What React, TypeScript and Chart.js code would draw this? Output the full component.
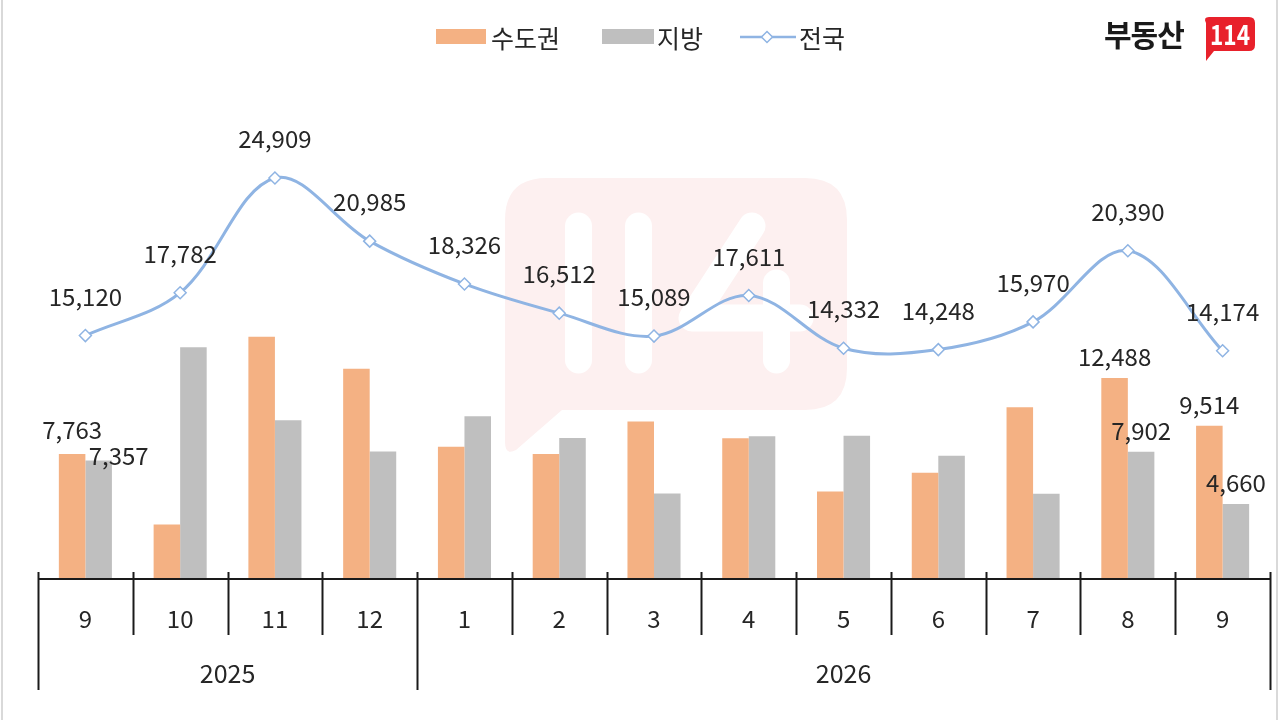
import React, { useEffect, useRef } from "react";
import { Chart, registerables } from "chart.js";

Chart.register(...registerables);

const months = ["9", "10", "11", "12", "1", "2", "3", "4", "5", "6", "7", "8", "9"];
const years = ["2025", "2026"];
const yearSpans = [4, 9];
const metro = [7763, 3380, 15050, 13060, 8215, 7758, 9785, 8740, 5440, 6600, 10670, 12488, 9514];
const local = [7357, 14402, 9859, 7925, 10111, 8754, 5304, 8871, 8892, 7648, 5300, 7902, 4660];
const national = [15120, 17782, 24909, 20985, 18326, 16512, 15089, 17611, 14332, 14248, 15970, 20390, 14174];
const labeledBars = [0, 11, 12];
const seriesNames = ["수도권", "지방", "전국"];

const FONT = '"Noto Sans CJK KR", "Noto Sans", sans-serif';
const ORANGE = "#F4B183";
const GRAY = "#BFBFBF";
const BLUE = "#8FB4E3";
const TEXT = "#262626";

const fmt = (v: number) => v.toLocaleString("en-US");

const overlayPlugin = {
  id: "overlay",
  afterDraw(chart: any) {
    const ctx = chart.ctx;
    const area = chart.chartArea;
    const xs = chart.scales.x;
    ctx.save();
    ctx.fillStyle = TEXT;
    ctx.textAlign = "center";
    ctx.textBaseline = "middle";
    ctx.font = `24px ${FONT}`;

    // line labels
    const lineMeta = chart.getDatasetMeta(2);
    lineMeta.data.forEach((pt: any, i: number) => {
      ctx.fillText(fmt(national[i]), pt.x, pt.y - 39);
    });

    // bar labels
    const vals = [metro, local];
    [0, 1].forEach((d) => {
      const meta = chart.getDatasetMeta(d);
      labeledBars.forEach((i) => {
        const el = meta.data[i];
        let dx = 0;
        let dy = -21;
        if (i === 0 && d === 0) dy = -24;
        if (i === 0 && d === 1) {
          dx = 20;
          dy = -5;
        }
        ctx.fillText(fmt(vals[d][i]), el.x + dx, el.y + dy);
      });
    });

    // axis
    const y0 = area.bottom;
    const half = (xs.getPixelForValue(1) - xs.getPixelForValue(0)) / 2;
    const edge = (i: number) => xs.getPixelForValue(0) - half + i * 2 * half;
    ctx.strokeStyle = "#1a1a1a";
    ctx.lineWidth = 2;
    ctx.beginPath();
    ctx.moveTo(edge(0), y0);
    ctx.lineTo(edge(months.length), y0);
    ctx.stroke();

    const groupEdges = [0];
    yearSpans.forEach((s) => groupEdges.push(groupEdges[groupEdges.length - 1] + s));
    for (let i = 0; i <= months.length; i++) {
      const isGroup = groupEdges.includes(i);
      const x = Math.round(edge(i)) + 0.5;
      ctx.beginPath();
      ctx.moveTo(x, y0 - 7);
      ctx.lineTo(x, y0 + (isGroup ? 111 : 56));
      ctx.stroke();
    }

    ctx.font = `24px ${FONT}`;
    months.forEach((m, i) => {
      ctx.fillText(m, xs.getPixelForValue(i), y0 + 40);
    });
    ctx.font = `25px ${FONT}`;
    years.forEach((yr, g) => {
      const cx = (edge(groupEdges[g]) + edge(groupEdges[g + 1])) / 2;
      ctx.fillText(yr, cx, y0 + 94);
    });
    ctx.restore();
  },
};

function Watermark() {
  return (
    <svg
      width={1280}
      height={720}
      style={{ position: "absolute", left: 0, top: 0 }}
    >
      <path
        d="M 547 178 H 805 Q 847 178 847 220 V 368 Q 847 410 805 410 H 562 L 516 450 Q 505 456 505 442 V 220 Q 505 178 547 178 Z"
        fill="#fdf0f0"
      />
      <g stroke="#ffffff" strokeWidth={27} strokeLinecap="round" strokeLinejoin="round" fill="none">
        <line x1={578.5} y1={226} x2={578.5} y2={360} />
        <line x1={638.5} y1={226} x2={638.5} y2={360} />
        <polyline points="752,226 692,318 800,318" />
        <line x1={776.5} y1={283} x2={776.5} y2={360} />
      </g>
    </svg>
  );
}

function Legend() {
  const textStyle: React.CSSProperties = {
    position: "absolute",
    top: 20,
    fontFamily: FONT,
    fontSize: 25,
    lineHeight: "34px",
    color: TEXT,
  };
  return (
    <>
      <div style={{ position: "absolute", left: 436, top: 29, width: 50, height: 15, background: ORANGE }} />
      <div style={{ ...textStyle, left: 491 }}>{seriesNames[0]}</div>
      <div style={{ position: "absolute", left: 602, top: 29, width: 52, height: 15, background: GRAY }} />
      <div style={{ ...textStyle, left: 657 }}>{seriesNames[1]}</div>
      <svg width={60} height={20} style={{ position: "absolute", left: 738, top: 27 }}>
        <line x1={2} y1={10} x2={58} y2={10} stroke={BLUE} strokeWidth={2.5} />
        <polygon points="29,4.5 34.5,10 29,15.5 23.5,10" fill="#fff" stroke={BLUE} strokeWidth={1.5} />
      </svg>
      <div style={{ ...textStyle, left: 799 }}>{seriesNames[2]}</div>
    </>
  );
}

function Logo() {
  return (
    <>
      <div
        style={{
          position: "absolute",
          left: 1104,
          top: 13,
          fontFamily: FONT,
          fontSize: 30,
          fontWeight: 700,
          lineHeight: "40px",
          color: "#1a1a1a",
          letterSpacing: -1,
        }}
      >
        부동산
      </div>
      <svg width={60} height={50} style={{ position: "absolute", left: 1200, top: 14 }}>
        <path d="M 9 3 H 49 Q 55 3 55 9 V 31 Q 55 37 49 37 H 14 L 6 47 V 9 Q 3 3 9 3 Z" fill="#E8212B" />
        <text
          x={30}
          y={31}
          textAnchor="middle"
          fill="#fff"
          fontFamily={FONT}
          fontWeight={700}
          fontSize={28}
          textLength={40}
          lengthAdjust="spacingAndGlyphs"
        >
          114
        </text>
      </svg>
    </>
  );
}

export default function App() {
  const canvasRef = useRef<HTMLCanvasElement | null>(null);

  useEffect(() => {
    document.body.style.margin = "0";
    const canvas = canvasRef.current;
    if (!canvas) return;
    const chart = new Chart(canvas, {
      type: "bar",
      data: {
        labels: months,
        datasets: [
          {
            type: "bar",
            label: seriesNames[0],
            data: metro,
            backgroundColor: ORANGE,
            categoryPercentage: 0.56,
            barPercentage: 1,
            order: 1,
          },
          {
            type: "bar",
            label: seriesNames[1],
            data: local,
            backgroundColor: GRAY,
            categoryPercentage: 0.56,
            barPercentage: 1,
            order: 1,
          },
          {
            type: "line",
            label: seriesNames[2],
            data: national,
            borderColor: BLUE,
            borderWidth: 3,
            tension: 0.35,
            pointStyle: "rectRot",
            pointRadius: 6,
            pointBackgroundColor: "#ffffff",
            pointBorderColor: BLUE,
            pointBorderWidth: 1.5,
            order: 0,
          },
        ],
      } as any,
      options: {
        responsive: false,
        animation: false,
        devicePixelRatio: 1,
        layout: { padding: { left: 38, right: 10, top: 96, bottom: 141 } },
        plugins: { legend: { display: false }, tooltip: { enabled: false } },
        scales: {
          x: { display: false, offset: true },
          y: { display: false, min: 0, max: 30000 },
        },
      } as any,
      plugins: [overlayPlugin],
    });
    return () => chart.destroy();
  }, []);

  return (
    <div
      style={{
        position: "fixed",
        left: 0,
        top: 0,
        width: 1280,
        height: 720,
        background: "#fff",
        overflow: "hidden",
      }}
    >
      <Watermark />
      <canvas
        ref={canvasRef}
        width={1280}
        height={720}
        style={{ position: "absolute", left: 0, top: 0 }}
      />
      <Legend />
      <Logo />
      <div style={{ position: "absolute", left: 1, top: 0, width: 2, height: 720, background: "#d9d9d9" }} />
      <div style={{ position: "absolute", left: 1276, top: 0, width: 2, height: 720, background: "#d9d9d9" }} />
    </div>
  );
}
